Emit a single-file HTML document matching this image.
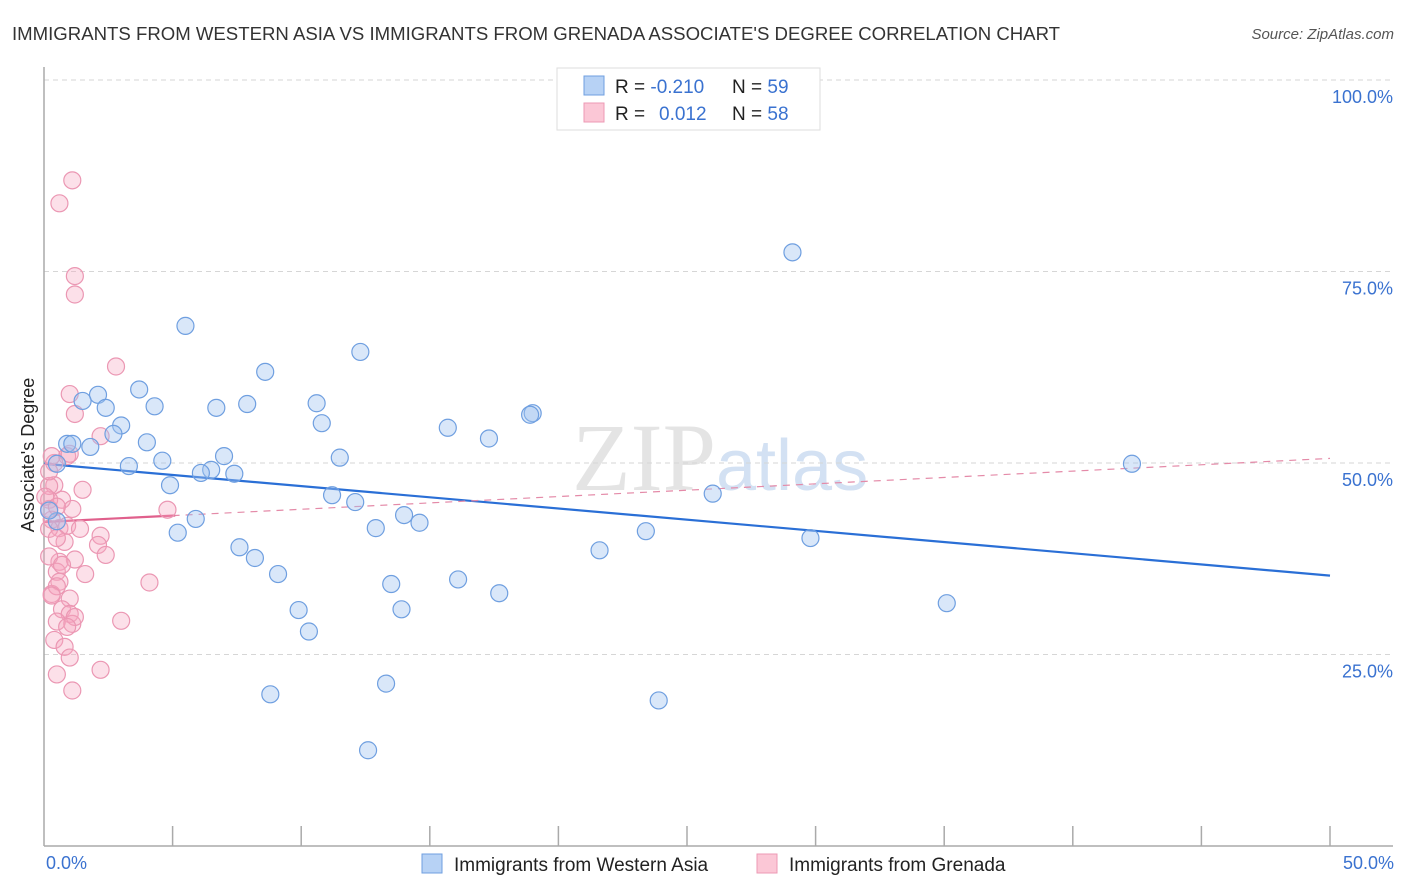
<!DOCTYPE html>
<html><head><meta charset="utf-8">
<style>
body{margin:0;background:#fff;font-family:"Liberation Sans",sans-serif;}
svg{display:block}
</style></head>
<body>
<svg id="chart" width="1406" height="892" xmlns="http://www.w3.org/2000/svg">
<text x="12" y="40" font-size="18.6" fill="#333">IMMIGRANTS FROM WESTERN ASIA VS IMMIGRANTS FROM GRENADA ASSOCIATE'S DEGREE CORRELATION CHART</text>
<text x="1394" y="39" font-size="15" fill="#555" font-style="italic" text-anchor="end">Source: ZipAtlas.com</text>
<text x="716" y="490" font-size="96" fill="#e4e4e4" text-anchor="end" font-family="Liberation Serif,serif">ZIP</text>
<text x="716" y="490" font-size="72" fill="#d3e1f3">atlas</text>
<g id="grid"></g>
<g id="axes"></g>
<g id="lines"></g>
<g id="points"></g>
<text transform="translate(34,455) rotate(-90)" font-size="18" fill="#222" text-anchor="middle">Associate's Degree</text>
<text x="46" y="869" font-size="18" fill="#3a72d0">0.0%</text>
<text x="1394" y="869" font-size="18" fill="#3a72d0" text-anchor="end">50.0%</text>
<g>
<rect x="557" y="68" width="263" height="62" fill="#fff" stroke="#ddd"/>
<rect x="584" y="76" width="20" height="19" fill="#b7d2f5" stroke="#6f9fe0"/>
<rect x="584" y="103" width="20" height="19" fill="#fbc7d6" stroke="#ec9ab4"/>
<text x="615" y="93" font-size="19" fill="#222">R = <tspan fill="#3a72d0">-0.210</tspan><tspan x="732">N = </tspan><tspan fill="#3a72d0">59</tspan></text>
<text x="615" y="120" font-size="19" fill="#222">R = <tspan x="659" fill="#3a72d0">0.012</tspan><tspan x="732">N = </tspan><tspan fill="#3a72d0">58</tspan></text>
</g>
<g>
<rect x="422" y="854" width="20" height="19" fill="#b7d2f5" stroke="#6f9fe0"/>
<text x="454" y="871" font-size="19" fill="#222">Immigrants from Western Asia</text>
<rect x="757" y="854" width="20" height="19" fill="#fbc7d6" stroke="#ec9ab4"/>
<text x="789" y="871" font-size="19" fill="#222">Immigrants from Grenada</text>
</g>
</svg>
<script>
const yTicks=[25,50,75,100];
const yTickLabels=["25.0%","50.0%","75.0%","100.0%"];
const xTicks=[5,10,15,20,25,30,35,40,45,50];
const blueX=[29.1,5.5,12.3,8.6,3.7,2.1,1.5,2.4,4.3,6.7,7.9,10.6,10.8,3.0,15.7,19.0,18.9,2.7,4.0,0.9,1.1,1.8,7.0,11.5,17.3,4.6,3.3,0.5,6.5,6.1,7.4,4.9,11.2,12.1,26.0,42.3,5.9,5.2,14.0,14.6,12.9,23.4,29.8,7.6,8.2,21.6,9.1,13.5,16.1,17.7,13.9,9.9,35.1,10.3,8.8,13.3,23.9,12.6,0.5,0.2];
const blueY=[77.5,67.9,64.5,61.9,59.6,58.9,58.1,57.2,57.4,57.2,57.7,57.8,55.2,54.9,54.6,56.5,56.3,53.8,52.7,52.5,52.5,52.1,50.9,50.7,53.2,50.3,49.6,49.9,49.1,48.7,48.6,47.1,45.8,44.9,46.0,49.9,42.7,40.9,43.2,42.2,41.5,41.1,40.2,39.0,37.6,38.6,35.5,34.2,34.8,33.0,30.9,30.8,31.7,28.0,19.8,21.2,19.0,12.5,42.4,43.8];
const pinkX=[1.1,0.6,1.2,1.2,2.8,1.0,1.2,2.2,0.9,0.4,1.0,0.4,1.5,0.7,0.2,1.1,0.3,0.6,4.8,2.2,2.1,0.8,2.4,1.2,0.6,0.2,0.5,1.6,0.6,4.1,0.3,1.0,0.7,1.0,3.0,0.5,1.1,0.4,0.8,1.0,2.2,0.5,1.1,0.3,0.2,0.2,0.9,0.5,0.2,0.7,0.5,0.3,1.2,0.9,0.2,1.4,0.05,0.5];
const pinkY=[86.9,83.9,74.4,72.0,62.6,59.0,56.4,53.5,50.9,50.0,51.2,47.1,46.5,45.2,45.2,44.0,42.6,41.5,43.9,40.5,39.3,39.7,38.0,37.4,37.1,37.8,35.8,35.5,34.5,34.4,32.9,32.3,30.9,30.3,29.4,29.3,29.0,26.9,26.0,24.6,23.0,22.4,20.3,50.9,47.0,41.4,41.8,40.2,48.9,36.7,33.9,32.7,29.9,28.6,44.0,41.4,45.6,44.3];
const blueTrend=[49.9,35.3];
const pinkTrend=[42.3,50.6];
const X0=44,X1=1330,Y0=846,Y100=80;
function sx(v){return X0+(X1-X0)*v/50;}
function sy(v){return Y0-(Y0-Y100)*v/100;}
const NS="http://www.w3.org/2000/svg";
function mk(tag,attrs,parent){const e=document.createElementNS(NS,tag);for(const k in attrs)e.setAttribute(k,attrs[k]);document.getElementById(parent).appendChild(e);return e;}
yTicks.forEach((t,i)=>{
 const g=mk('line',{x1:X0,x2:1393,y1:sy(t),y2:sy(t),stroke:'#d6d6d6','stroke-dasharray':'5,4'},'grid');
 
 
 const l=mk('text',{x:1393,y:sy(t)+23,'font-size':18,fill:'#3a72d0','text-anchor':'end'},'grid');
 l.textContent=yTickLabels[i];
 
 
});
let ax=mk('line',{x1:X0,x2:X0,y1:67,y2:846,stroke:'#aaa','stroke-width':1.5},'axes');


ax=mk('line',{x1:X0,x2:1393,y1:846,y2:846,stroke:'#aaa','stroke-width':1.5},'axes');


xTicks.forEach(t=>{
 const tk=mk('line',{x1:sx(t),x2:sx(t),y1:826,y2:846,stroke:'#aaa','stroke-width':1.5},'axes');
 
 
});
let ln=mk('line',{x1:sx(0),y1:sy(blueTrend[0]),x2:sx(50),y2:sy(blueTrend[1]),stroke:'#2a6fd6','stroke-width':2.2},'lines');


const pAt=x=>pinkTrend[0]+(pinkTrend[1]-pinkTrend[0])*x/50;
ln=mk('line',{x1:sx(5),y1:sy(pAt(5)),x2:sx(50),y2:sy(pAt(50)),stroke:'#e48aa8','stroke-width':1.2,'stroke-dasharray':'7,6'},'lines');


ln=mk('line',{x1:sx(0),y1:sy(pAt(0)),x2:sx(5.1),y2:sy(pAt(5.1)),stroke:'#e0608c','stroke-width':2.2},'lines');


pinkX.forEach((x,i)=>{
 const c=mk('circle',{cx:sx(x),cy:sy(pinkY[i]),r:8.5,fill:'rgba(246,165,192,0.35)',stroke:'#eb97b3','stroke-width':1.2},'points');
 
 
});
blueX.forEach((x,i)=>{
 const c=mk('circle',{cx:sx(x),cy:sy(blueY[i]),r:8.5,fill:'rgba(160,195,240,0.4)',stroke:'#6f9fe0','stroke-width':1.2},'points');
 
 
});
</script>
</body></html>
